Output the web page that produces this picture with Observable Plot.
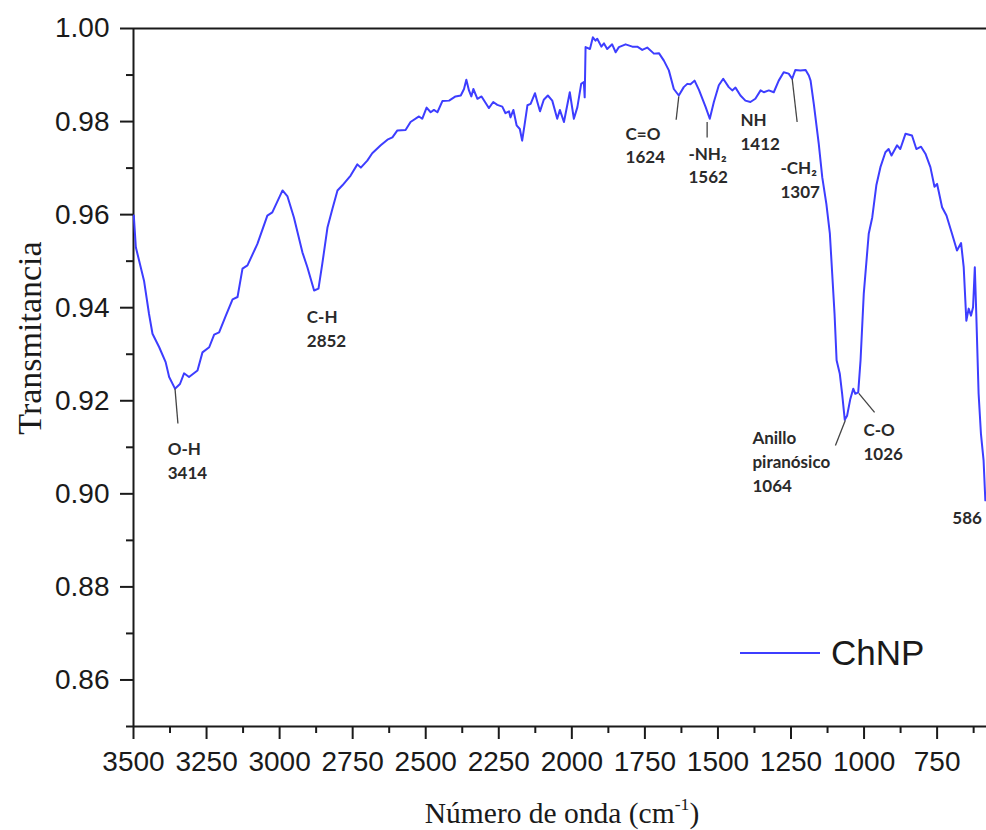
<!DOCTYPE html>
<html>
<head>
<meta charset="utf-8">
<script src="https://cdn.jsdelivr.net/npm/d3@7"></script>
<script src="https://cdn.jsdelivr.net/npm/@observablehq/plot@0.6"></script>
<style>
  body { margin: 0; background: #fff; }
  #wrap { position: relative; width: 986px; height: 830px; overflow: hidden; background: #fff; }
  #wrap svg { position: absolute; left: 0; top: 0; }
  .ytitle {
    position: absolute; left: 30px; top: 338px;
    transform: translate(-50%, -50%) rotate(-90deg);
    font-family: "Liberation Serif", "DejaVu Serif", serif; font-size: 34px; color: #1a1a1a;
    white-space: nowrap;
  }
  .xtitle {
    position: absolute; left: 562px; top: 813px;
    transform: translate(-50%, -50%);
    font-family: "Liberation Serif", "DejaVu Serif", serif; font-size: 29.5px; color: #1a1a1a;
    white-space: nowrap;
  }
  .xtitle sup { font-size: 0.6em; vertical-align: 0.7em; line-height: 0; }
  .legend { position: absolute; left: 740px; top: 633px; height: 40px; display: flex; align-items: center; }
  .legend .swatch { width: 80px; border-top: 2px solid #3d3dff; margin-right: 11px; }
  .legend .name { font-family: "Liberation Sans", Arial, sans-serif; font-size: 35px; color: #1a1a1a; }
</style>
</head>
<body>
<div id="wrap"></div>
<script>
// FTIR spectrum of chitosan nanoparticles (ChNP)
const wavenumber = [3499,3492,3464,3447,3435,3412,3390,3378,3358,3341,
  3327,3310,3281,3264,3241,3224,3207,3184,3161,3144,
  3127,3110,3076,3042,3025,2990,2973,2951,2922,2905,
  2882,2867,2854,2836,2819,2802,2785,2757,2734,2722,
  2700,2683,2654,2631,2614,2597,2569,2552,2523,2512,
  2497,2483,2472,2460,2443,2420,2398,2380,2369,2361,
  2352,2344,2337,2323,2309,2284,2269,2255,2238,2227,
  2215,2210,2200,2189,2178,2170,2162,2152,2141,2126,
  2118,2109,2096,2082,2067,2050,2041,2027,2007,1993,
  1981,1968,1959,1956,1953,1938,1928,1919,1913,1899,
  1890,1879,1862,1850,1839,1816,1793,1776,1759,1742,
  1719,1702,1685,1668,1651,1634,1617,1605,1594,1580,
  1565,1542,1528,1514,1497,1482,1463,1451,1440,1423,
  1406,1389,1372,1354,1343,1326,1309,1292,1275,1258,
  1246,1235,1218,1200,1189,1183,1172,1155,1143,1129,
  1117,1109,1101,1094,1083,1075,1066,1058,1047,1037,
  1030,1020,1012,1001,984,972,958,944,927,916,
  906,887,876,858,836,821,805,790,773,759,
  750,733,718,699,682,668,659,650,642,634,
  627,621,616,608,600,591,585];

const transmittance = [0.9598,0.9530,0.9458,0.9387,0.9344,0.9315,0.9283,0.9251,0.9226,0.9236,
  0.9259,0.9251,0.9265,0.9304,0.9315,0.9342,0.9347,0.9383,0.9418,0.9423,
  0.9484,0.9491,0.9537,0.9598,0.9605,0.9652,0.9639,0.9594,0.9519,0.9487,
  0.9437,0.9441,0.9494,0.9573,0.9613,0.9652,0.9663,0.9684,0.9708,0.9701,
  0.9716,0.9732,0.9749,0.9761,0.9766,0.9781,0.9782,0.9799,0.9811,0.9806,
  0.9830,0.9820,0.9825,0.9820,0.9844,0.9845,0.9854,0.9856,0.9870,0.9890,
  0.9867,0.9854,0.9870,0.9849,0.9854,0.9829,0.9842,0.9836,0.9832,0.9818,
  0.9822,0.9809,0.9825,0.9792,0.9784,0.9759,0.9792,0.9835,0.9838,0.9861,
  0.9842,0.9822,0.9847,0.9856,0.9845,0.9806,0.9825,0.9799,0.9863,0.9806,
  0.9831,0.9881,0.9885,0.9852,0.9960,0.9956,0.9981,0.9974,0.9978,0.9961,
  0.9968,0.9956,0.9966,0.9949,0.9960,0.9966,0.9961,0.9961,0.9954,0.9959,
  0.9946,0.9947,0.9931,0.9910,0.9870,0.9856,0.9874,0.9881,0.9880,0.9888,
  0.9868,0.9831,0.9806,0.9842,0.9878,0.9892,0.9874,0.9867,0.9873,0.9856,
  0.9845,0.9842,0.9849,0.9867,0.9863,0.9867,0.9863,0.9888,0.9906,0.9903,
  0.9892,0.9911,0.9910,0.9911,0.9899,0.9888,0.9838,0.9752,0.9680,0.9623,
  0.9559,0.9473,0.9387,0.9287,0.9258,0.9215,0.9159,0.9168,0.9204,0.9226,
  0.9215,0.9218,0.9287,0.9430,0.9559,0.9594,0.9663,0.9702,0.9734,0.9741,
  0.9727,0.9749,0.9741,0.9774,0.9770,0.9741,0.9746,0.9731,0.9702,0.9660,
  0.9666,0.9616,0.9598,0.9559,0.9523,0.9539,0.9487,0.9372,0.9398,0.9383,
  0.9401,0.9487,0.9387,0.9215,0.9129,0.9072,0.8986];

// Band assignments: label text and where the label block starts
const bandLabels = ["O-H\n3414", "C-H\n2852", "C=O\n1624", "-NH\u2082\n1562", "NH\n1412",
  "-CH\u2082\n1307", "Anillo\npiran\u00f3sico\n1064", "C-O\n1026", "586"];
const bandLabelWn = [3383, 2907, 1816, 1601, 1423, 1286, 1382, 1002, 698];
const bandLabelT  = [0.9121, 0.9403, 0.9798, 0.9755, 0.9826, 0.9723, 0.9143, 0.9160, 0.8971];

// Leader lines from the band to its label
const leaderWn1 = [3358, 1634, 1537, 1246, 1064, 1018];
const leaderT1  = [0.9226, 0.9854, 0.9799, 0.9892, 0.9158, 0.9216];
const leaderWn2 = [3348, 1643, 1537, 1229, 1098, 964];
const leaderT2  = [0.9151, 0.9804, 0.9766, 0.9799, 0.9104, 0.9175];

// Axis ticks
const xMajor = [3500, 3250, 3000, 2750, 2500, 2250, 2000, 1750, 1500, 1250, 1000, 750];
const xMinor = [3375, 3125, 2875, 2625, 2375, 2125, 1875, 1625, 1375, 1125, 875, 625];
const yMajor = [0.86, 0.88, 0.90, 0.92, 0.94, 0.96, 0.98, 1.00];
const yMinor = [0.85, 0.87, 0.89, 0.91, 0.93, 0.95, 0.97, 0.99];

const spectrum = wavenumber.map((w, i) => ({wn: w, t: transmittance[i]}));
const labels = bandLabels.map((s, i) => ({text: s, wn: bandLabelWn[i], t: bandLabelT[i]}));
const leaders = leaderWn1.map((w, i) => ({x1: w, y1: leaderT1[i], x2: leaderWn2[i], y2: leaderT2[i]}));

const ink = "#1a1a1a";
const chart = Plot.plot({
  width: 986,
  height: 830,
  marginLeft: 133,
  marginRight: 0,
  marginTop: 28,
  marginBottom: 104,
  style: {fontFamily: "'Liberation Sans', Arial, sans-serif", fontSize: "28px", color: ink, background: "#fff"},
  x: {domain: [3500, 581]},
  y: {domain: [0.85, 1.00]},
  marks: [
    Plot.axisY(yMajor, {tickSize: 13, tickPadding: 11, strokeWidth: 2, stroke: ink, fontSize: 28,
      tickFormat: d3.format(".2f"), label: null}),
    Plot.axisY(yMinor, {tickSize: 7, strokeWidth: 2, stroke: ink, tickFormat: () => "", label: null}),
    Plot.axisX(xMajor, {tickSize: 13, tickPadding: 12, strokeWidth: 2, stroke: ink, fontSize: 28,
      tickFormat: d3.format("d"), label: null}),
    Plot.axisX(xMinor, {tickSize: 7, strokeWidth: 2, stroke: ink, tickFormat: () => "", label: null}),
    Plot.ruleY([1.00], {stroke: ink, strokeWidth: 2}),
    Plot.ruleY([0.85], {stroke: ink, strokeWidth: 2}),
    Plot.ruleX([3500], {stroke: ink, strokeWidth: 2}),
    Plot.line(spectrum, {x: "wn", y: "t", stroke: "#3d3dff", strokeWidth: 2, strokeLinejoin: "round"}),
    Plot.link(leaders, {x1: "x1", y1: "y1", x2: "x2", y2: "y2", stroke: "#444", strokeWidth: 1.3}),
    Plot.text(labels, {x: "wn", y: "t", text: "text", textAnchor: "start", lineAnchor: "top",
      lineHeight: 1.41, fontSize: 17, fontWeight: "bold", fontFamily: "Lato, 'Open Sans', sans-serif",
      fill: "#2a2a2a"})
  ]
});

const wrap = document.getElementById("wrap");
wrap.appendChild(chart);

const yTitle = document.createElement("div");
yTitle.className = "ytitle";
yTitle.textContent = "Transmitancia";
wrap.appendChild(yTitle);

const xTitle = document.createElement("div");
xTitle.className = "xtitle";
xTitle.innerHTML = "Número de onda (cm<sup>-1</sup>)";
wrap.appendChild(xTitle);

const legend = document.createElement("div");
legend.className = "legend";
legend.innerHTML = '<span class="swatch"></span><span class="name">ChNP</span>';
wrap.appendChild(legend);
</script>
</body>
</html>
